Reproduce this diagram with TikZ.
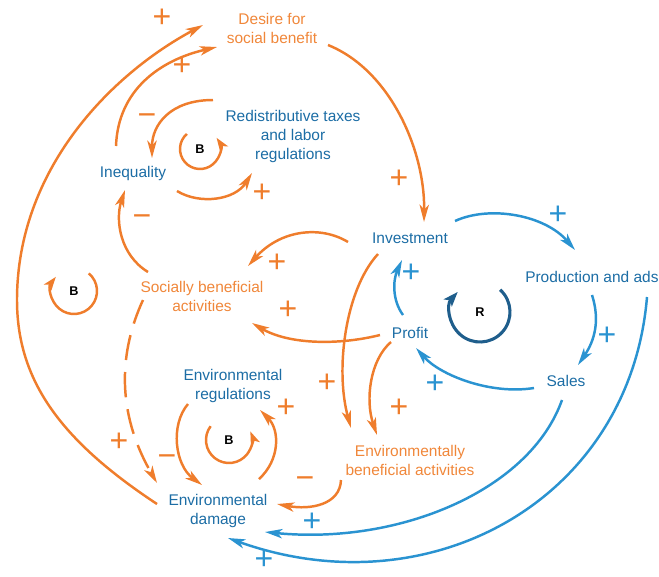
\documentclass[tikz,border=0pt]{standalone}
\usepackage{fontspec}
\setmainfont{Liberation Sans}
\usetikzlibrary{arrows.meta}
\definecolor{org}{HTML}{EF7D2C}
\definecolor{orgtxt}{HTML}{F0873A}
\definecolor{blu}{HTML}{2A93D1}
\definecolor{blutxt}{HTML}{1C6DA5}
\definecolor{rblue}{HTML}{1F5E8C}
\begin{document}
\begin{tikzpicture}[x=0.75pt,y=-0.75pt,
  lbl/.style={align=center,font=\fontsize{11.6}{14.25}\selectfont,inner sep=0pt},
  bl/.style={lbl,text=blutxt},
  ol/.style={lbl,text=orgtxt},
  sg/.style={font=\fontsize{24}{24}\selectfont,inner sep=0pt,text height=0.66em,text depth=0pt},
  ps/.style={sg,text=org},
  bs/.style={sg,text=blu},
  tip/.style={-{Stealth[length=13pt,width=7pt,inset=3.5pt]}},
  oa/.style={draw=org,line width=1.85pt,tip},
  ba/.style={draw=blu,line width=1.85pt,tip},
  looplbl/.style={font=\bfseries\fontsize{9.5}{10}\selectfont,text=black,inner sep=0pt},
  oloop/.style={draw=org,line width=1.85pt,-{Stealth[length=10pt,width=7pt,inset=2.5pt]}},
  rloop/.style={draw=rblue,line width=2.3pt,-{Stealth[length=11pt,width=8pt,inset=2.5pt]}}
]
\useasboundingbox (0,0) rectangle (659,576);

% nodes
\node[ol] (desire) at (272,28.5) {Desire for\\social benefit};
\node[bl] (redis) at (293,136) {Redistributive taxes\\and labor\\regulations};
\node[bl] (ineq) at (133,173) {Inequality};
\node[ol] (soc) at (202,296) {Socially beneficial\\activities};
\node[bl] (inv) at (410,238) {Investment};
\node[bl,anchor=west] (prod) at (525,277) {Production and ads};
\node[bl] (profit) at (410,333) {Profit};
\node[bl] (sales) at (566,381) {Sales};
\node[bl] (envreg) at (233,386) {Environmental\\regulations};
\node[bl] (envdam) at (218,511) {Environmental\\damage};
\node[ol] (envben) at (410,460) {Environmentally\\beneficial activities};

% loop labels
\node[looplbl] (b1) at (200,149) {B};
\node[looplbl] (b2) at (74,291) {B};
\node[looplbl] (rr) at (480,312) {R};
\node[looplbl] (b3) at (229,440) {B};

% loop arcs
\draw[oloop] ([shift={(229:20)}]b1.center) arc[start angle=229,end angle=-34,radius=20];
\draw[oloop] ([shift={(-50:23)}]b2.center) arc[start angle=-50,end angle=218,radius=23];
\draw[rloop] ([shift={(-48:30)}]rr.center) arc[start angle=-48,end angle=222,radius=30];
\draw[oloop] ([shift={(217:23)}]b3.center) arc[start angle=217,end angle=-22,radius=23];

% orange connectors
\draw[oa] ([shift={(-61,-7)}]envdam.center) .. controls (60,440) and (17,380) .. (17,300)
   .. controls (17,170) and (110,75) .. ([shift={(-69,-3.5)}]desire.center);
\draw[oa] ([shift={(56,16.5)}]desire.center) .. controls (390,70) and (425,150) .. ([shift={(14,-16)}]inv.center);
\draw[oa] ([shift={(-17,-27)}]ineq.center) .. controls (118,90) and (160,60) .. ([shift={(-55,18.5)}]desire.center);
\draw[oa] ([shift={(-80,-36)}]redis.center) .. controls (170,100) and (152,125) .. ([shift={(19,-15)}]ineq.center);
\draw[oa] ([shift={(44,18)}]ineq.center) .. controls (200,205) and (235,200) .. ([shift={(-41,37)}]redis.center);
\draw[oa] ([shift={(-54,-24)}]soc.center) .. controls (120,255) and (115,220) .. ([shift={(-8,17)}]ineq.center);
\draw[oa] ([shift={(-62,4)}]inv.center) .. controls (320,225) and (280,230) .. ([shift={(46,-30)}]soc.center);
\draw[oa] ([shift={(-30,2)}]profit.center) .. controls (340,345) and (290,345) .. ([shift={(50,27)}]soc.center);
\draw[oa] ([shift={(-32,16)}]inv.center) .. controls (345,290) and (335,370) .. ([shift={(-59,-32)}]envben.center);
\draw[oa] ([shift={(-19,9)}]profit.center) .. controls (370,360) and (365,400) .. ([shift={(-33,-25)}]envben.center);
\draw[oa] ([shift={(-69,20)}]envben.center) .. controls (340,505) and (310,510) .. ([shift={(59,-7)}]envdam.center);
\draw[oa] ([shift={(-45,18)}]envreg.center) .. controls (170,425) and (175,465) .. ([shift={(-16,-26)}]envdam.center);
\draw[oa] ([shift={(41,-32)}]envdam.center) .. controls (280,460) and (280,430) .. ([shift={(27,24)}]envreg.center);
\draw[oa,dash pattern=on 19pt off 9pt] ([shift={(-59,4)}]soc.center) .. controls (120,350) and (115,410) .. ([shift={(-61,-28)}]envdam.center);

% blue connectors
\draw[ba] ([shift={(45,-17)}]inv.center) .. controls (490,205) and (545,215) .. ([shift={(50,-27)}]prod.west);
\draw[ba] ([shift={(67,18)}]prod.west) .. controls (600,320) and (595,340) .. ([shift={(12,-16)}]sales.center);
\draw[ba] ([shift={(-32,7)}]sales.center) .. controls (490,395) and (440,375) .. ([shift={(6,15)}]profit.center);
\draw[ba] ([shift={(-7,-18)}]profit.center) .. controls (392,300) and (393,280) .. ([shift={(-8,22)}]inv.center);
\draw[ba] ([shift={(-4,19)}]sales.center) .. controls (530,490) and (400,545) .. ([shift={(47,21)}]envdam.center);
\draw[ba] ([shift={(122,20)}]prod.west) .. controls (630,500) and (430,610) .. ([shift={(10,27)}]envdam.center);

% polarity signs
\node[ps] (p1) at (162,23) {+};
\node[ps] (p2) at (182,71) {+};
\node[ps] (m1) at (147,121) {−};
\node[ps] (p3) at (262,198) {+};
\node[ps] (m2) at (142,222) {−};
\node[ps] (p4) at (277,268) {+};
\node[ps] (p5) at (288,315) {+};
\node[ps] (p6) at (399,184) {+};
\node[ps] (p7) at (327,388) {+};
\node[ps] (p8) at (286,413) {+};
\node[ps] (p9) at (399,413) {+};
\node[ps] (p10) at (119,447) {+};
\node[ps] (m3) at (167,462) {−};
\node[ps] (m4) at (305,484) {−};
\node[bs] (q1) at (411,278) {+};
\node[bs] (q2) at (558,220) {+};
\node[bs] (q3) at (607,341) {+};
\node[bs] (q4) at (435,389) {+};
\node[bs] (q5) at (312,527) {+};
\node[bs] (q6) at (264,565) {+};
\end{tikzpicture}
\end{document}
